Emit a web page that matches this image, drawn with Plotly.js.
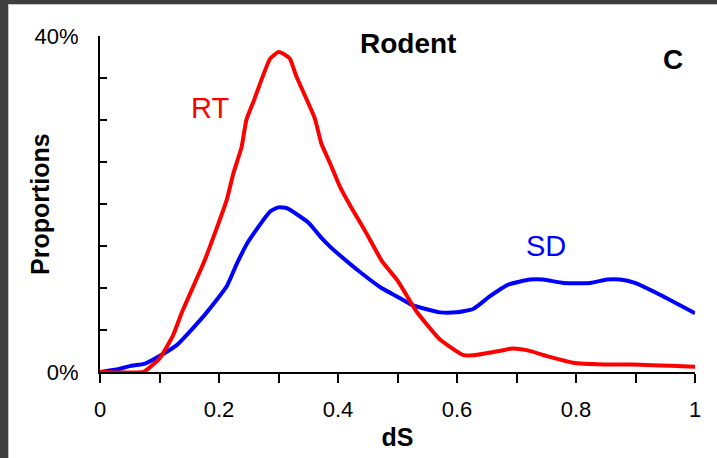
<!DOCTYPE html>
<html>
<head>
<meta charset="utf-8">
<script src="https://cdn.plot.ly/plotly-3.0.1.min.js"></script>
<style>
  html, body { margin: 0; padding: 0; background: #3e3e3e; width: 717px; height: 458px; overflow: hidden; }
  #wrap { position: absolute; left: 8px; top: 4px; width: 708px; height: 453px; border-left: 1px solid #c4c4c4; border-top: 1px solid #c4c4c4; background: #fff; }
  #chart { width: 708px; height: 453px; }
</style>
</head>
<body>
<div id="wrap"><div id="chart"></div></div>
<script>
// RT series (red)
const rtX = [0, 0.073, 0.081, 0.10, 0.123, 0.137, 0.176, 0.213, 0.224, 0.238, 0.246, 0.258, 0.286, 0.30, 0.308, 0.319, 0.33, 0.361, 0.372, 0.387, 0.403, 0.423, 0.448, 0.473, 0.501, 0.532, 0.571, 0.611, 0.627, 0.678, 0.692, 0.717, 0.756, 0.795, 0.846, 0.896, 1.0];
const rtY = [0, 0, 0.004, 0.016, 0.044, 0.07, 0.133, 0.205, 0.236, 0.268, 0.30, 0.322, 0.373, 0.381, 0.379, 0.373, 0.352, 0.302, 0.272, 0.248, 0.221, 0.195, 0.165, 0.133, 0.108, 0.072, 0.039, 0.020, 0.020, 0.026, 0.028, 0.026, 0.018, 0.011, 0.009, 0.009, 0.0063];
// SD series (blue)
const sdX = [0, 0.028, 0.05, 0.076, 0.10, 0.129, 0.176, 0.213, 0.23, 0.249, 0.286, 0.30, 0.314, 0.35, 0.373, 0.387, 0.403, 0.437, 0.473, 0.499, 0.524, 0.571, 0.599, 0.627, 0.655, 0.686, 0.723, 0.745, 0.779, 0.824, 0.852, 0.874, 0.899, 0.941, 1.0];
const sdY = [0, 0.003, 0.007, 0.010, 0.019, 0.032, 0.068, 0.102, 0.129, 0.155, 0.191, 0.196, 0.195, 0.178, 0.159, 0.149, 0.139, 0.119, 0.100, 0.090, 0.080, 0.071, 0.071, 0.075, 0.090, 0.104, 0.110, 0.110, 0.106, 0.106, 0.110, 0.110, 0.106, 0.092, 0.070];
// tick labels
const xTickVals = [0, 0.2, 0.4, 0.6, 0.8, 1];
const xTickText = ['0', '0.2', '0.4', '0.6', '0.8', '1'];
const yTickVals = [0, 0.4];
const yTickText = ['0%', '40%'];

const FONT = 'Liberation Sans, Arial, sans-serif';

const traces = [
  { x: sdX, y: sdY, type: 'scatter', mode: 'lines', name: 'SD',
    line: { color: '#0000ff', width: 4, shape: 'spline', smoothing: 0.5 } },
  { x: rtX, y: rtY, type: 'scatter', mode: 'lines', name: 'RT',
    line: { color: '#ff0000', width: 4, shape: 'spline', smoothing: 0.5 } }
];

const layout = {
  width: 708, height: 453,
  margin: { l: 91, r: 22, t: 31, b: 86, pad: 0 },
  paper_bgcolor: '#ffffff', plot_bgcolor: '#ffffff',
  showlegend: false, hovermode: false,
  font: { family: FONT, color: '#000000', size: 22 },
  title: { text: '<b>Rodent</b>', xref: 'paper', yref: 'paper', x: 0.518, y: 0.979,
           xanchor: 'center', yanchor: 'middle', font: { family: FONT, size: 28, color: '#000' } },
  xaxis: {
    range: [0, 1], showgrid: false, zeroline: false,
    showline: true, linecolor: '#000', linewidth: 2,
    tickmode: 'array', tickvals: xTickVals, ticktext: xTickText,
    ticks: 'outside', ticklen: 9, tickwidth: 2, tickcolor: '#000',
    minor: { dtick: 0.1, tick0: 0, ticks: 'outside', ticklen: 9, tickwidth: 2, tickcolor: '#000' },
    tickfont: { family: FONT, size: 22, color: '#000' },
    ticklabelstandoff: 8,
    title: { text: '<b>dS</b>', font: { family: FONT, size: 25, color: '#000' }, standoff: 7 },
    automargin: false, fixedrange: true
  },
  yaxis: {
    range: [0, 0.4], showgrid: false, zeroline: false,
    showline: true, linecolor: '#000', linewidth: 2,
    tickmode: 'array', tickvals: yTickVals, ticktext: yTickText,
    ticks: 'inside', ticklen: 7, tickwidth: 2, tickcolor: '#000',
    minor: { dtick: 0.05, tick0: 0, ticks: 'inside', ticklen: 7, tickwidth: 2, tickcolor: '#000' },
    tickfont: { family: FONT, size: 22, color: '#000' },
    ticklabelstandoff: 15,
    automargin: false, fixedrange: true
  },
  annotations: [
    { text: '<b>Proportions</b>', xref: 'paper', yref: 'paper', x: -0.101, y: 0.5,
      xanchor: 'center', yanchor: 'middle', textangle: -90, showarrow: false,
      font: { family: FONT, size: 25, color: '#000' } },
    { text: '<b>C</b>', xref: 'paper', yref: 'paper', x: 0.963, y: 0.929,
      xanchor: 'center', yanchor: 'middle', showarrow: false,
      font: { family: FONT, size: 28, color: '#000' } },
    { text: 'RT', xref: 'x', yref: 'y', x: 0.185, y: 0.314,
      xanchor: 'center', yanchor: 'middle', showarrow: false,
      font: { family: FONT, size: 29, color: '#ff0000' } },
    { text: 'SD', xref: 'x', yref: 'y', x: 0.75, y: 0.150,
      xanchor: 'center', yanchor: 'middle', showarrow: false,
      font: { family: FONT, size: 29, color: '#0000ff' } }
  ]
};

Plotly.newPlot('chart', traces, layout, { staticPlot: true, displayModeBar: false });
</script>
</body>
</html>
